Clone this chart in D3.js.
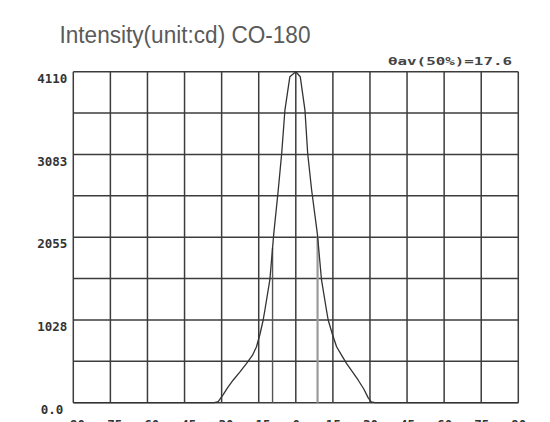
<!DOCTYPE html>
<html>
<head>
<meta charset="utf-8">
<script src="https://cdn.jsdelivr.net/npm/d3@7"></script>
<style>
  html, body { margin: 0; padding: 0; background: #fff; }
  svg { display: block; }
</style>
</head>
<body>
<div id="chart"></div>
<script>
// ---- data ----
const angles = [-90, -45, -33, -31.4, -29.5, -27.5, -25.3, -22.5, -19.9, -17.5, -15.9, -14.5, -13.2, -12.5, -10.5, -8.9, -7.1, -5.7, -4.4, -2.4, 0,
                 1.8, 3.7, 4.8, 6.4, 8.7, 10.4, 12.4, 13.1, 14.8, 16.5, 18.5, 20.5, 23, 25.2, 27.5, 29.3, 30.5, 32, 45, 90];
const intensity = [0, 0, 0, 12, 95, 190, 282, 385, 489, 590, 695, 850, 1027, 1151, 1524, 2103, 2641, 3097, 3634, 4048, 4110,
                   4048, 3634, 3097, 2641, 2103, 1524, 1151, 1027, 850, 695, 590, 489, 380, 282, 170, 60, 10, 0, 0, 0];
const xTicks = [-90, -75, -60, -45, -30, -15, 0, 15, 30, 45, 60, 75, 90];
const yTickValues = [0, 1027.5, 2055, 3082.5, 4110];
const yTickLabels = ["0.0", "1028", "2055", "3083", "4110"];
const yGridValues = [0, 513.75, 1027.5, 1541.25, 2055, 2568.75, 3082.5, 3596.25, 4110];
const halfAngles = [-9.4, 8.8];
const titleText = "Intensity(unit:cd)  CO-180";
const beamText = "\u03B8av(50%)=17.6";

(function () {
// ---- layout ----
const W = 550, H = 422;
const mLeft = 73.3, mRight = 518.3, mTop = 71.7, mBottom = 402.7;

const svg = d3.select("#chart").append("svg")
  .attr("width", W).attr("height", H);

svg.append("rect").attr("width", W).attr("height", H).attr("fill", "#fff");

const x = d3.scaleLinear().domain([-90, 90]).range([mLeft, mRight]);
const y = d3.scaleLinear().domain([0, 4110]).range([mBottom, mTop]);

const gridColor = "#3c3c3c";

// vertical grid
svg.append("g").selectAll("line").data(xTicks).join("line")
  .attr("x1", d => x(d)).attr("x2", d => x(d))
  .attr("y1", y(0)).attr("y2", y(4110))
  .attr("stroke", gridColor).attr("stroke-width", 1.5);

// horizontal grid
svg.append("g").selectAll("line").data(yGridValues).join("line")
  .attr("x1", x(-90)).attr("x2", x(90))
  .attr("y1", d => y(d)).attr("y2", d => y(d))
  .attr("stroke", gridColor).attr("stroke-width", 1.5);

// half intensity markers
function interp(a) {
  for (let i = 0; i < angles.length - 1; i++) {
    if (a >= angles[i] && a <= angles[i + 1]) {
      const t = (a - angles[i]) / (angles[i + 1] - angles[i]);
      return intensity[i] + t * (intensity[i + 1] - intensity[i]);
    }
  }
  return 0;
}
svg.append("g").selectAll("line").data(halfAngles).join("line")
  .attr("x1", d => x(d)).attr("x2", d => x(d))
  .attr("y1", y(0)).attr("y2", d => y(interp(d)))
  .attr("stroke", (d, i) => i === 0 ? "#555" : "#9a9a9a")
  .attr("stroke-width", (d, i) => i === 0 ? 1.4 : 2.2);

// curve
const pts = angles.map((a, i) => [a, intensity[i]]);
svg.append("path")
  .datum(pts)
  .attr("fill", "none")
  .attr("stroke", "#333")
  .attr("stroke-width", 1.3)
  .attr("stroke-linejoin", "round")
  .attr("d", d3.line().x(d => x(d[0])).y(d => y(d[1])));

// y axis labels
const tickFont = "'DejaVu Sans Mono', 'Liberation Mono', monospace";
const yAxis = d3.axisLeft(y).tickValues(yTickValues)
  .tickFormat((d, i) => yTickLabels[i]).tickSize(0).tickPadding(6);
const gy = svg.append("g").attr("transform", `translate(${mLeft},0)`).call(yAxis);
gy.select(".domain").remove();
gy.selectAll("text")
  .attr("font-family", tickFont).attr("font-weight", "bold")
  .attr("font-size", 12.5).attr("fill", "#333")
  .attr("dy", "0.85em")
  .attr("dx", (d, i) => i === 0 ? -4 : 0);

// x axis labels
const xAxis = d3.axisBottom(x).tickValues(xTicks).tickSize(0).tickPadding(17);
const gx = svg.append("g").attr("transform", `translate(0,${mBottom})`).call(xAxis);
gx.select(".domain").remove();
gx.selectAll("text")
  .attr("font-family", tickFont).attr("font-weight", "bold")
  .attr("font-size", 12.5).attr("fill", "#333");

// title
svg.append("text")
  .attr("x", 59.5).attr("y", 42.5)
  .attr("font-family", "'Liberation Sans', Arial, sans-serif")
  .attr("font-size", 23.5).attr("fill", "#5a5a5a")
  .attr("textLength", 251).attr("lengthAdjust", "spacingAndGlyphs")
  .text(titleText);

// beam angle annotation
svg.append("text")
  .attr("x", 512).attr("y", 65)
  .attr("text-anchor", "end")
  .attr("font-family", tickFont).attr("font-weight", "bold")
  .attr("font-size", 10.5).attr("fill", "#444")
  .attr("textLength", 124).attr("lengthAdjust", "spacingAndGlyphs")
  .text(beamText);
})();
</script>
</body>
</html>
